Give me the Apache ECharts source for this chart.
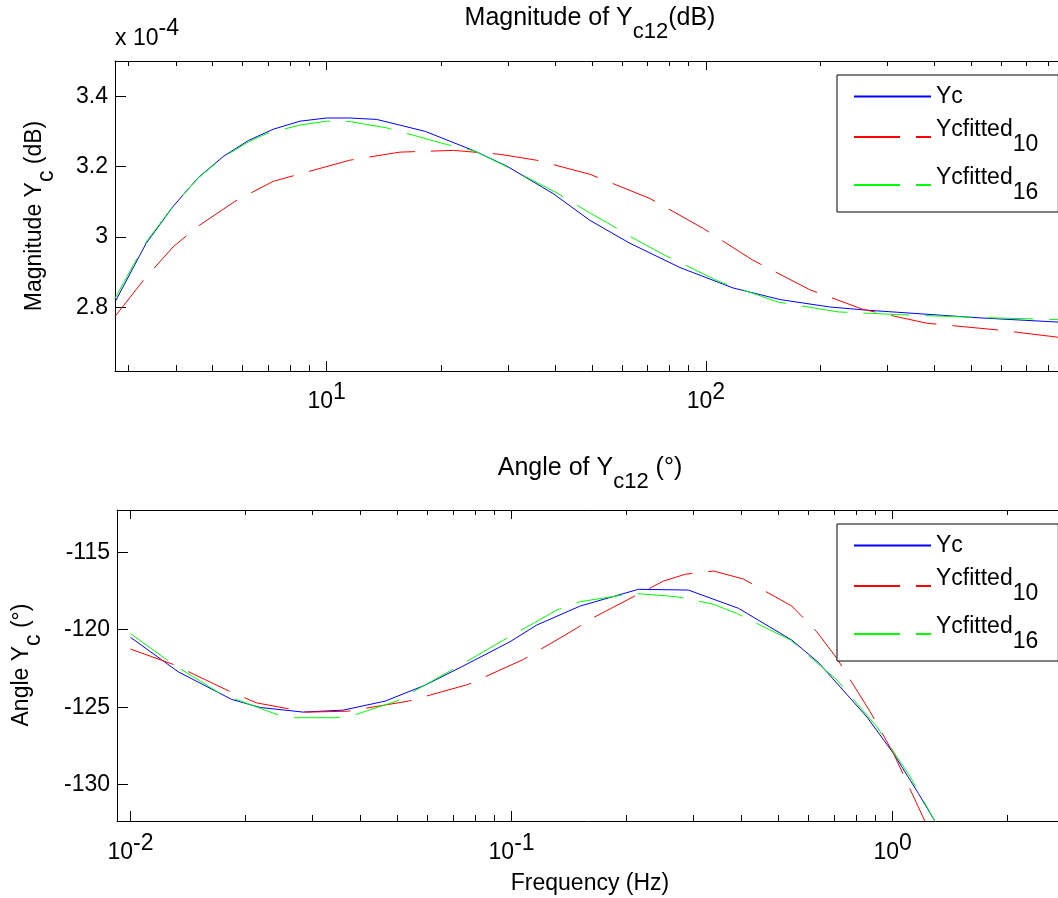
<!DOCTYPE html>
<html><head><meta charset="utf-8">
<script src="https://cdn.jsdelivr.net/npm/echarts@6/dist/echarts.min.js"></script>
<style>html,body{margin:0;padding:0;background:#fff}#c{width:1058px;height:898px}</style>
</head><body><div id="c"></div>
<script>
// ---------- DATA ----------
const seriesNames = ['Yc', 'Ycfitted10', 'Ycfitted16'];

// Top plot: magnitude (x 1e-4)
const topXRange = [2.767, 912.7];
const topYRange = [2.619, 3.5];
const topFreqYc = [2.767, 3.34, 3.94, 4.59, 5.36, 6.22, 7.23, 8.51, 10, 11.5, 13.55, 18.2, 24.6, 29.9, 39.6, 49.5, 62.8, 85.5, 118, 157, 212, 265, 528, 849, 912.7];
const topYc     = [2.815, 2.981, 3.087, 3.169, 3.230, 3.274, 3.306, 3.329, 3.338, 3.338, 3.334, 3.300, 3.244, 3.201, 3.123, 3.047, 2.983, 2.913, 2.855, 2.822, 2.801, 2.792, 2.770, 2.758, 2.756];
const topFreqFit10 = [2.767, 3.29, 3.94, 4.59, 5.73, 7.23, 11.5, 15.6, 21.6, 28.6, 35.8, 49.5, 71.3, 98.5, 133, 188, 260, 382, 597, 849, 912.7];
const topFit10     = [2.774, 2.877, 2.972, 3.031, 3.101, 3.158, 3.218, 3.241, 3.246, 3.235, 3.218, 3.178, 3.109, 3.024, 2.934, 2.850, 2.794, 2.755, 2.735, 2.715, 2.713];
const topFreqFit16 = [2.767, 3.34, 3.94, 4.59, 5.36, 6.22, 6.95, 8.51, 10, 11.5, 14.4, 20.7, 24.6, 29.3, 40.8, 49.5, 56.5, 61.8, 78, 109, 155, 223, 325, 528, 849, 912.7];
const topFit16     = [2.825, 2.985, 3.088, 3.168, 3.228, 3.270, 3.294, 3.318, 3.329, 3.328, 3.310, 3.263, 3.244, 3.204, 3.123, 3.068, 3.033, 3.007, 2.948, 2.872, 2.815, 2.787, 2.779, 2.771, 2.765, 2.764];
const topMinorTicks = [3, 4, 5, 6, 7, 8, 9, 20, 30, 40, 50, 60, 70, 80, 90, 200, 300, 400, 500, 600, 700, 800, 900];

// Bottom plot: angle (degrees)
const botXRange = [0.009218, 2.919];
const botYRange = [-132.35, -112.27];
const botFreqYc = [0.01, 0.01335, 0.01843, 0.0219, 0.0284, 0.0362, 0.0466, 0.0593, 0.074, 0.099, 0.1164, 0.1514, 0.2153, 0.291, 0.394, 0.5436, 0.638, 0.8555, 1.005, 1.169, 1.293, 1.4];
const botYc     = [-120.49, -122.72, -124.50, -125.02, -125.32, -125.19, -124.61, -123.58, -122.39, -120.78, -119.70, -118.47, -117.39, -117.44, -118.62, -120.67, -122.11, -125.63, -127.99, -130.58, -132.4, -133.9];
const botFreqFit10 = [0.01, 0.01295, 0.01806, 0.0214, 0.029, 0.0372, 0.0536, 0.077, 0.1074, 0.148, 0.1607, 0.2503, 0.2857, 0.339, 0.406, 0.5436, 0.632, 0.714, 0.873, 1.005, 1.217, 1.3];
const botFit10     = [-121.25, -122.24, -123.94, -124.72, -125.32, -125.26, -124.61, -123.53, -121.92, -119.91, -119.33, -116.86, -116.42, -116.21, -116.73, -118.47, -120.13, -121.85, -125.30, -127.99, -132.4, -133.5];
const botFreqFit16 = [0.01, 0.01295, 0.01718, 0.0242, 0.0268, 0.0348, 0.0385, 0.0499, 0.0747, 0.0952, 0.1315, 0.1514, 0.209, 0.2714, 0.339, 0.389, 0.54, 0.714, 0.909, 1.112, 1.293, 1.4];
const botFit16     = [-120.24, -122.24, -124.11, -125.47, -125.68, -125.68, -125.52, -124.61, -122.18, -120.67, -118.73, -118.19, -117.65, -117.87, -118.36, -118.94, -120.67, -123.25, -126.27, -129.50, -132.4, -133.9];
const botMinorTicks = [0.02, 0.03, 0.04, 0.05, 0.06, 0.07, 0.08, 0.09, 0.2, 0.3, 0.4, 0.5, 0.6, 0.7, 0.8, 0.9, 2];

// ---------- STYLE ----------
const FONT = '"Liberation Sans", Arial, Helvetica, sans-serif';
const colors = {Yc: '#0000ff', Ycfitted10: '#ff0000', Ycfitted16: '#00ff00'};
const DASH = [46, 16];

function zip(xs, ys) { return xs.map((x, i) => [x, ys[i]]); }

function powLabel(v) {
  const l = Math.log10(v);
  const e = Math.round(l);
  if (Math.abs(l - e) > 1e-6) return '';
  return '{b|10}{s|' + e + '}';
}
const powRich = {
  b: {fontSize: 23, fontFamily: FONT, color: '#000', verticalAlign: 'bottom'},
  s: {fontSize: 23, fontFamily: FONT, color: '#000', verticalAlign: 'top', padding: [0, 0, 9, 0]}
};

function xAxes(grid, range, pos, showLabel, margin) {
  return {
    gridIndex: grid, type: 'log', logBase: 10, min: range[0], max: range[1], position: pos,
    axisLine: {show: true, onZero: false, lineStyle: {color: '#000', width: 1}},
    axisTick: {show: true, inside: true, length: pos === 'bottom' ? 10 : 9, lineStyle: {color: '#000', width: 1}},
    minorTick: {show: false},
    splitLine: {show: false},
    axisLabel: showLabel ? {show: true, margin: margin, formatter: powLabel, rich: powRich, color: '#000'} : {show: false}
  };
}
function yAxis(grid, range) {
  return {
    gridIndex: grid, type: 'value', min: range[0], max: range[1], position: 'left',
    axisLine: {show: true, onZero: false, lineStyle: {color: '#000', width: 1}},
    axisTick: {show: true, inside: true, length: 11, lineStyle: {color: '#000', width: 1}},
    splitLine: {show: false},
    axisLabel: {show: true, margin: 7, fontSize: 23, fontFamily: FONT, color: '#000', showMinLabel: false, showMaxLabel: false}
  };
}

function minorTickItem(params, api) {
  const cs = params.coordSys;
  const x = Math.round(api.coord([api.value(0), api.value(1)])[0]) + 0.5;
  const yb = cs.y + cs.height, yt = cs.y;
  return {type: 'group', children: [
    {type: 'line', shape: {x1: x, y1: yb, x2: x, y2: yb - 6}, style: {stroke: '#000', lineWidth: 1}},
    {type: 'line', shape: {x1: x, y1: yt, x2: x, y2: yt + 5}, style: {stroke: '#000', lineWidth: 1}}
  ]};
}

function lineSeries(name, xi, yi, data) {
  return {
    name: name, type: 'line', xAxisIndex: xi, yAxisIndex: yi, data: data,
    symbol: 'none', showSymbol: false, clip: true, animation: false,
    lineStyle: {color: colors[name], width: 1, type: name === 'Yc' ? 'solid' : DASH},
    itemStyle: {color: colors[name]}
  };
}

const legendRich = {
  a: {fontSize: 23, fontFamily: FONT, color: '#000', lineHeight: 23, verticalAlign: 'middle'},
  m: {fontSize: 23, fontFamily: FONT, color: '#000', lineHeight: 38, verticalAlign: 'top'},
  s: {fontSize: 23, fontFamily: FONT, color: '#000', lineHeight: 38, verticalAlign: 'bottom'}
};
function legendFmt(n) {
  if (n === 'Yc') return '{a|Yc}';
  return '{m|Ycfitted}{s|' + n.slice(8) + '}';
}
function legendAt(top) {
  return {
    left: 837, top: top, orient: 'vertical', data: seriesNames, selectedMode: false,
    itemWidth: 77, itemHeight: 10, itemGap: 10, padding: [10, 20, 8, 16],
    borderColor: '#000', borderWidth: 1, backgroundColor: '#fff',
    itemStyle: {color: 'rgba(0,0,0,0)', borderWidth: 0, opacity: 0},
    formatter: legendFmt, textStyle: {fontSize: 23, fontFamily: FONT, color: '#000', rich: legendRich}
  };
}

const titleRich = {
  m: {fontSize: 25, fontFamily: FONT, fill: '#000', verticalAlign: 'top'},
  s: {fontSize: 22, fontFamily: FONT, fill: '#000', verticalAlign: 'bottom', padding: [15, 0, 0, 0]}
};
const nameRich = {
  m: {fontSize: 23, fontFamily: FONT, fill: '#000', verticalAlign: 'top'},
  s: {fontSize: 23, fontFamily: FONT, fill: '#000', verticalAlign: 'bottom', padding: [12, 0, 0, 0]}
};
const supRich = {
  b: {fontSize: 23, fontFamily: FONT, fill: '#000', verticalAlign: 'bottom'},
  s: {fontSize: 23, fontFamily: FONT, fill: '#000', verticalAlign: 'top', padding: [0, 0, 10, 0]}
};

const option = {
  animation: false,
  backgroundColor: '#fff',
  grid: [
    {left: 115, top: 61, width: 955, height: 310, outerBoundsMode: 'none', containLabel: false},
    {left: 117, top: 510, width: 953, height: 311, outerBoundsMode: 'none', containLabel: false}
  ],
  xAxis: [
    xAxes(0, topXRange, 'bottom', true, 10),
    xAxes(0, topXRange, 'top', false, 0),
    xAxes(1, botXRange, 'bottom', true, 11),
    xAxes(1, botXRange, 'top', false, 0)
  ],
  yAxis: [yAxis(0, topYRange), yAxis(1, botYRange)],
  legend: [legendAt(75), legendAt(524)],
  series: [
    lineSeries('Yc', 0, 0, zip(topFreqYc, topYc)),
    lineSeries('Ycfitted10', 0, 0, zip(topFreqFit10, topFit10)),
    lineSeries('Ycfitted16', 0, 0, zip(topFreqFit16, topFit16)),
    lineSeries('Yc', 2, 1, zip(botFreqYc, botYc)),
    lineSeries('Ycfitted10', 2, 1, zip(botFreqFit10, botFit10)),
    lineSeries('Ycfitted16', 2, 1, zip(botFreqFit16, botFit16)),
    {type: 'custom', xAxisIndex: 0, yAxisIndex: 0, silent: true, renderItem: minorTickItem,
     data: topMinorTicks.map(v => [v, topYRange[0]])},
    {type: 'custom', xAxisIndex: 2, yAxisIndex: 1, silent: true, renderItem: minorTickItem,
     data: botMinorTicks.map(v => [v, botYRange[0]])}
  ],
  graphic: [
    {type: 'text', x: 590, y: 6, style: {text: '{m|Magnitude of Y}{s|c12}{m|(dB)}', rich: titleRich, align: 'center', verticalAlign: 'top'}},
    {type: 'text', x: 590, y: 456, style: {text: '{m|Angle of Y}{s|c12}{m| (°)}', rich: titleRich, align: 'center', verticalAlign: 'top'}},
    {type: 'text', x: 115, y: 17, style: {text: '{b|x 10}{s|-4}', rich: supRich, align: 'left', verticalAlign: 'top'}},
    {type: 'text', x: 41, y: 216, rotation: Math.PI / 2, style: {text: '{m|Magnitude Y}{s|c}{m| (dB)}', rich: nameRich, align: 'center', verticalAlign: 'middle'}},
    {type: 'text', x: 28, y: 665, rotation: Math.PI / 2, style: {text: '{m|Angle Y}{s|c}{m| (°)}', rich: nameRich, align: 'center', verticalAlign: 'middle'}},
    {type: 'text', x: 590, y: 884, style: {text: 'Frequency (Hz)', fontSize: 23, fontFamily: FONT, fill: '#000', align: 'center', verticalAlign: 'middle'}}
  ]
};

const chart = echarts.init(document.getElementById('c'), null, {renderer: 'canvas'});
chart.setOption(option);
</script></body></html>
